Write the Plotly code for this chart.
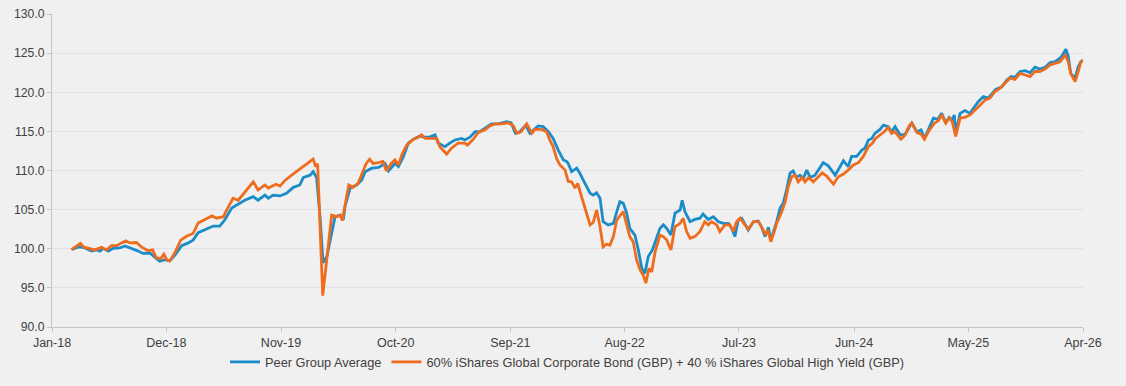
import plotly.graph_objects as go

peer_name = "Peer Group Average"
bench_name = "60% iShares Global Corporate Bond (GBP) + 40 % iShares Global High Yield (GBP)"

peer_dates = [
    "2018-02-27", "2018-03-23", "2018-04-07", "2018-04-27", "2018-05-11", "2018-05-21", "2018-05-30",
    "2018-06-14", "2018-06-29", "2018-07-18", "2018-08-02", "2018-08-16", "2018-09-10", "2018-09-24",
    "2018-10-14", "2018-10-29", "2018-11-12", "2018-11-27", "2018-12-11", "2018-12-26",
    "2019-01-15", "2019-02-03", "2019-02-17", "2019-03-04", "2019-03-29", "2019-04-17", "2019-05-06",
    "2019-05-21", "2019-06-10", "2019-06-24", "2019-07-18", "2019-08-12", "2019-08-26", "2019-09-15",
    "2019-09-25", "2019-10-09", "2019-10-29", "2019-11-17", "2019-12-07", "2019-12-26",
    "2020-01-05", "2020-01-25", "2020-02-03", "2020-02-13", "2020-02-23", "2020-03-03", "2020-03-14",
    "2020-03-28", "2020-04-07", "2020-04-22", "2020-05-01", "2020-05-06", "2020-05-21", "2020-06-09",
    "2020-06-24", "2020-07-04", "2020-07-23", "2020-08-12", "2020-08-31", "2020-09-10", "2020-09-29",
    "2020-10-09", "2020-10-24", "2020-11-07", "2020-11-22", "2020-12-11", "2020-12-26",
    "2021-01-09", "2021-01-24", "2021-02-02", "2021-02-22", "2021-03-08", "2021-03-23", "2021-04-12",
    "2021-04-21", "2021-05-06", "2021-05-21", "2021-06-04", "2021-06-19", "2021-07-08", "2021-07-28",
    "2021-08-07", "2021-08-21", "2021-09-03", "2021-09-16", "2021-09-29", "2021-10-16", "2021-10-28",
    "2021-11-12", "2021-11-21", "2021-12-06", "2021-12-21",
    "2022-01-04", "2022-01-19", "2022-02-03", "2022-02-13", "2022-02-17", "2022-02-27", "2022-03-14",
    "2022-03-23", "2022-04-07", "2022-04-22", "2022-05-01", "2022-05-11", "2022-05-21", "2022-05-30",
    "2022-06-14", "2022-06-29", "2022-07-09", "2022-07-18", "2022-07-28", "2022-08-07", "2022-08-16",
    "2022-08-31", "2022-09-10", "2022-09-20", "2022-09-29", "2022-10-09", "2022-10-21", "2022-11-03",
    "2022-11-12", "2022-11-22", "2022-12-02", "2022-12-14", "2022-12-26",
    "2023-01-10", "2023-01-16", "2023-01-24", "2023-02-08", "2023-02-22", "2023-03-09", "2023-03-18",
    "2023-04-02", "2023-04-17", "2023-05-02", "2023-05-16", "2023-05-31", "2023-06-10", "2023-06-19",
    "2023-06-29", "2023-07-09", "2023-07-28", "2023-08-12", "2023-08-26", "2023-09-05", "2023-09-15",
    "2023-09-25", "2023-10-02", "2023-10-12", "2023-10-19", "2023-10-29", "2023-11-07", "2023-11-17",
    "2023-11-27", "2023-12-06", "2023-12-16", "2023-12-26",
    "2024-01-05", "2024-01-15", "2024-01-25", "2024-02-08", "2024-02-23", "2024-03-03", "2024-03-18",
    "2024-04-07", "2024-05-01", "2024-05-15", "2024-05-25", "2024-06-09", "2024-06-24", "2024-07-03",
    "2024-07-13", "2024-07-23", "2024-08-01", "2024-08-16", "2024-08-26", "2024-09-09", "2024-09-19",
    "2024-09-29", "2024-10-14", "2024-10-28", "2024-11-09", "2024-11-17", "2024-12-02", "2024-12-14",
    "2024-12-24",
    "2025-01-04", "2025-01-19", "2025-02-01", "2025-02-12", "2025-02-24", "2025-03-06", "2025-03-15",
    "2025-03-21", "2025-03-25", "2025-04-07", "2025-04-21", "2025-05-06", "2025-05-16", "2025-05-30",
    "2025-06-14", "2025-06-27", "2025-07-10", "2025-07-20", "2025-08-07", "2025-08-21", "2025-09-03",
    "2025-09-14", "2025-09-29", "2025-10-14", "2025-10-28", "2025-11-12", "2025-11-26", "2025-12-11",
    "2025-12-26",
    "2026-01-09", "2026-01-24", "2026-01-31", "2026-02-10", "2026-02-17", "2026-02-24", "2026-03-09",
    "2026-03-18", "2026-03-26", "2026-04-01",
]
peer_values = [
    99.9, 100.25, 100.1, 99.7, 99.85, 99.7, 100.05,
    99.7, 100.05, 100.1, 100.35, 100.15, 99.7, 99.4,
    99.45, 98.9, 98.4, 98.6, 98.45, 99.2,
    100.4, 100.75, 101.1, 102.05, 102.5, 102.9, 102.9,
    103.7, 105.2, 105.6, 106.2, 106.65, 106.2, 106.85,
    106.45, 106.85, 106.75, 107.1, 107.85, 108.15,
    109.1, 109.4, 109.85, 109.1, 104.1, 98.2, 99.0,
    102.0, 104.1, 104.3, 103.7, 105.4, 107.75, 108.15,
    108.8, 109.85, 110.3, 110.4, 110.9, 109.95, 110.9,
    110.5, 111.8, 113.5, 114.0, 114.4, 114.25,
    114.3, 114.55, 113.5, 113.05, 113.5, 113.9, 114.1,
    113.9, 114.25, 114.95, 114.95, 115.4, 115.95, 115.95,
    116.1, 116.25, 116.1, 114.75, 114.95, 115.8, 114.75,
    115.4, 115.7, 115.6, 114.95,
    114.1, 112.6, 111.35, 111.15, 110.9, 109.85, 110.3,
    109.65, 108.35, 107.1, 106.85, 107.15, 106.45, 103.45,
    103.05, 103.25, 104.75, 106.0, 105.8, 104.55, 102.6,
    101.75, 99.85, 97.5, 96.85, 99.0, 99.85, 101.55,
    102.6, 103.05, 102.6, 101.75, 104.55,
    104.95, 106.2, 104.75, 103.45, 103.75, 103.9, 104.45,
    103.75, 104.1, 103.45, 103.25, 103.25, 102.6, 101.55,
    103.7, 103.9, 102.4, 103.45, 103.55, 102.8, 101.55,
    102.75, 101.1, 102.4, 103.45, 105.2, 105.8, 107.5,
    109.65, 109.95, 109.1, 109.4,
    109.0, 110.05, 109.1, 109.4, 110.3, 111.0, 110.6,
    109.4, 111.25, 110.5, 111.8, 111.8, 112.6, 112.85,
    113.9, 114.1, 114.75, 115.25, 115.8, 115.6, 114.95,
    115.6, 114.55, 114.6, 115.5, 116.05, 114.95, 115.2,
    114.1,
    115.2, 116.7, 116.55, 117.3, 116.1, 116.8, 116.45,
    117.1, 114.75, 117.3, 117.65, 117.3, 117.95, 118.8,
    119.45, 119.25, 119.85, 120.35, 120.7, 121.55, 122.0,
    121.9, 122.65, 122.75, 122.5, 123.2, 122.95, 123.2,
    123.8,
    123.9, 124.35, 124.75, 125.5, 124.55, 122.4, 121.8,
    123.25, 123.9, 124.1,
]

bench_dates = [
    "2018-02-27", "2018-03-14", "2018-03-25", "2018-04-04", "2018-04-22", "2018-05-06", "2018-05-26",
    "2018-06-09", "2018-06-24", "2018-07-09", "2018-07-23", "2018-08-05", "2018-08-16", "2018-09-05",
    "2018-09-20", "2018-10-09", "2018-10-22", "2018-11-01", "2018-11-14", "2018-11-24", "2018-12-03",
    "2018-12-11", "2018-12-26",
    "2019-01-12", "2019-01-29", "2019-02-17", "2019-03-04", "2019-03-24", "2019-04-13", "2019-04-27",
    "2019-05-17", "2019-05-26", "2019-06-14", "2019-06-29", "2019-07-23", "2019-08-12", "2019-08-26",
    "2019-09-15", "2019-09-25", "2019-10-17", "2019-10-29", "2019-11-12", "2019-12-02", "2019-12-16",
    "2019-12-31",
    "2020-01-15", "2020-02-03", "2020-02-10", "2020-02-16", "2020-03-02", "2020-03-14", "2020-03-28",
    "2020-04-12", "2020-04-22", "2020-04-28", "2020-05-06", "2020-05-17", "2020-05-29", "2020-06-13",
    "2020-06-27", "2020-07-07", "2020-07-17", "2020-07-27", "2020-08-12", "2020-08-25", "2020-09-04",
    "2020-09-18", "2020-09-29", "2020-10-09", "2020-10-19", "2020-11-02", "2020-11-22", "2020-12-06",
    "2020-12-16", "2020-12-26",
    "2021-01-14", "2021-01-29", "2021-02-07", "2021-02-27", "2021-03-13", "2021-04-01", "2021-04-21",
    "2021-04-29", "2021-05-16", "2021-05-30", "2021-06-19", "2021-07-03", "2021-07-18", "2021-08-07",
    "2021-08-26", "2021-09-10", "2021-09-20", "2021-10-02", "2021-10-19", "2021-11-03", "2021-11-12",
    "2021-12-01", "2021-12-16", "2021-12-25",
    "2022-01-04", "2022-01-14", "2022-01-24", "2022-02-08", "2022-02-17", "2022-02-27", "2022-03-09",
    "2022-03-17", "2022-03-28", "2022-04-12", "2022-04-22", "2022-05-01", "2022-05-11", "2022-05-21",
    "2022-05-30", "2022-06-09", "2022-06-19", "2022-06-29", "2022-07-09", "2022-07-18", "2022-07-28",
    "2022-08-07", "2022-08-16", "2022-08-26", "2022-09-05", "2022-09-15", "2022-09-24", "2022-10-02",
    "2022-10-11", "2022-10-19", "2022-10-29", "2022-11-12", "2022-11-22", "2022-12-02", "2022-12-14",
    "2022-12-26",
    "2023-01-10", "2023-01-19", "2023-01-29", "2023-02-08", "2023-02-22", "2023-03-09", "2023-03-23",
    "2023-04-02", "2023-04-12", "2023-04-27", "2023-05-06", "2023-05-21", "2023-06-05", "2023-06-14",
    "2023-06-24", "2023-07-04", "2023-07-28", "2023-08-12", "2023-08-26", "2023-09-05", "2023-09-17",
    "2023-09-23", "2023-10-02", "2023-10-12", "2023-10-19", "2023-11-03", "2023-11-13", "2023-11-22",
    "2023-12-02", "2023-12-12", "2023-12-21",
    "2024-01-01", "2024-01-10", "2024-01-20", "2024-02-03", "2024-02-18", "2024-02-29", "2024-03-13",
    "2024-04-02", "2024-04-16", "2024-05-01", "2024-05-15", "2024-05-30", "2024-06-14", "2024-06-28",
    "2024-07-13", "2024-07-25", "2024-08-03", "2024-08-16", "2024-08-28", "2024-09-09", "2024-09-19",
    "2024-09-29", "2024-10-16", "2024-10-28", "2024-11-09", "2024-11-17", "2024-12-02", "2024-12-14",
    "2024-12-24",
    "2025-01-04", "2025-01-22", "2025-02-03", "2025-02-12", "2025-02-24", "2025-03-06", "2025-03-15",
    "2025-03-25", "2025-04-07", "2025-04-21", "2025-05-06", "2025-05-20", "2025-06-04", "2025-06-19",
    "2025-07-03", "2025-07-18", "2025-08-01", "2025-08-16", "2025-08-31", "2025-09-14", "2025-09-29",
    "2025-10-14", "2025-10-28", "2025-11-12", "2025-11-26", "2025-12-11", "2025-12-26",
    "2026-01-09", "2026-01-24", "2026-02-08", "2026-02-17", "2026-02-24", "2026-03-09", "2026-03-18",
    "2026-03-26", "2026-04-01",
]
bench_values = [
    99.9, 100.4, 100.7, 100.2, 100.0, 99.85, 100.2,
    99.85, 100.4, 100.4, 100.75, 101.0, 100.75, 100.8,
    100.2, 99.75, 99.85, 98.9, 98.7, 99.3, 98.55,
    98.45, 99.5,
    101.1, 101.6, 101.95, 103.3, 103.75, 104.2, 103.9,
    104.1, 104.95, 106.45, 106.2, 107.5, 108.55, 107.5,
    108.15, 107.75, 108.25, 108.0, 108.7, 109.4, 109.85,
    110.3,
    110.9, 111.45, 110.5, 110.85, 94.0, 98.8, 104.3,
    104.1, 104.3, 103.6, 105.4, 108.15, 107.85, 108.35,
    109.85, 110.9, 111.45, 110.9, 111.0, 111.15, 109.95,
    110.9, 111.35, 110.7, 112.0, 113.25, 114.0, 114.25,
    114.55, 114.1,
    114.1, 114.1, 113.05, 112.1, 112.85, 113.5, 113.5,
    113.25, 114.0, 114.85, 115.2, 115.7, 115.95, 115.95,
    116.1, 115.7, 114.75, 114.95, 115.95, 114.75, 115.25,
    115.25, 114.95, 113.9,
    113.05, 111.55, 110.7, 110.05, 108.6, 108.55, 107.75,
    108.35, 106.65, 104.55, 103.05, 103.35, 104.95, 102.8,
    100.25, 100.6, 100.45, 101.55, 103.7, 104.2, 104.75,
    103.05, 101.55, 100.9, 98.55, 97.3, 96.65, 95.6,
    97.5, 97.05, 99.6, 101.75, 101.55, 101.1, 99.85,
    102.8,
    103.25, 103.9, 102.2, 101.35, 101.55, 102.2, 103.45,
    103.05, 103.45, 103.05, 102.2, 103.05, 103.05, 102.2,
    103.45, 103.9, 102.5, 103.45, 103.5, 102.8, 101.75,
    102.4, 100.9, 102.2, 103.25, 104.75, 106.0, 107.95,
    109.2, 109.4, 108.55,
    109.1, 108.55, 109.1, 108.55, 109.2, 109.7, 109.3,
    108.25, 109.2, 109.55, 110.05, 110.7, 111.0, 111.8,
    113.05, 113.5, 114.1, 114.55, 114.95, 115.5, 114.75,
    114.95, 114.0, 114.5, 115.7, 116.05, 114.85, 114.65,
    114.0,
    114.95, 116.05, 116.4, 117.1, 116.05, 116.7, 116.25,
    114.35, 116.7, 116.8, 117.1, 117.75, 118.35, 119.0,
    119.25, 120.1, 120.5, 121.15, 121.8, 121.65, 122.4,
    122.2, 122.0, 122.65, 122.65, 122.95, 123.5,
    123.7, 123.9, 124.75, 123.9, 122.4, 121.35, 122.65,
    123.9, 124.0,
]

tick_dates = ["2018-01-01", "2018-12-01", "2019-11-01", "2020-10-01", "2021-09-01",
              "2022-08-01", "2023-07-01", "2024-06-01", "2025-05-01", "2026-04-01"]
tick_labels = ["Jan-18", "Dec-18", "Nov-19", "Oct-20", "Sep-21",
               "Aug-22", "Jul-23", "Jun-24", "May-25", "Apr-26"]

BG = "#f0f0f0"
TXT = "#404040"
fig = go.Figure()
fig.add_trace(go.Scatter(x=peer_dates, y=peer_values, mode="lines", name=peer_name,
                         line=dict(color="#1a8cc8", width=2.8)))
fig.add_trace(go.Scatter(x=bench_dates, y=bench_values, mode="lines", name=bench_name,
                         line=dict(color="#ef6c1e", width=2.8)))

fig.update_layout(
    width=1126, height=386,
    paper_bgcolor=BG, plot_bgcolor=BG,
    margin=dict(l=52, r=43, t=14, b=59, autoexpand=False),
    font=dict(family="Liberation Sans, Arial, sans-serif", size=12.5, color=TXT),
    showlegend=True,
    legend=dict(orientation="h", x=0.5, xanchor="center", y=-0.112, yanchor="middle",
                font=dict(size=12.8, color=TXT), bgcolor="rgba(0,0,0,0)",
                itemwidth=30, tracegroupgap=0),
    xaxis=dict(type="date", range=["2018-01-01", "2026-04-01"], automargin=False,
               tickvals=tick_dates, ticktext=tick_labels,
               showgrid=False, showline=True, linecolor="#c4c4cc", linewidth=1,
               ticks="outside", ticklen=4, tickcolor="#c4c4cc", zeroline=False,
               tickfont=dict(size=12.5, color=TXT)),
    yaxis=dict(range=[90, 130], dtick=5, tick0=90, tickformat=".1f", automargin=False,
               showgrid=True, gridcolor="#e0e0e6", gridwidth=1,
               showline=True, linecolor="#c4c4cc", linewidth=1,
               ticks="outside", ticklen=4, tickcolor="#c4c4cc", zeroline=False,
               tickfont=dict(size=12.2, color=TXT)),
)

fig.write_html(
    "out.html",
    config={"displayModeBar": False},
    post_script="document.body.style.margin='0';document.body.style.background='#f0f0f0';",
)
